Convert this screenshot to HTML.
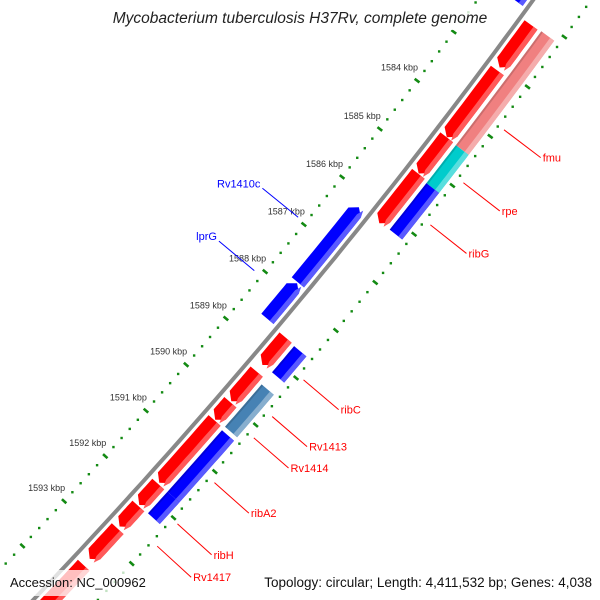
<!DOCTYPE html>
<html><head><meta charset="utf-8"><style>
html,body{margin:0;padding:0;background:#fff;width:600px;height:600px;overflow:hidden;}
svg{display:block;font-family:"Liberation Sans",sans-serif;}
</style></head><body>
<svg id="map" width="600" height="600" viewBox="0 0 600 600" xmlns="http://www.w3.org/2000/svg">
<rect width="600" height="600" fill="#fff"/>
<g id="ticks"></g>
<g id="backbone"></g>
<g id="features"></g>
<g id="labels"></g>
<rect x="106" y="4" width="388" height="26" fill="#fff" fill-opacity="0.8"/>
<text x="300" y="23" text-anchor="middle" font-size="15.5" font-style="italic" fill="#222">Mycobacterium tuberculosis H37Rv, complete genome</text>
<rect x="4" y="570" width="144" height="26" fill="#fff" fill-opacity="0.75"/>
<text x="10" y="587" font-size="13" fill="#111">Accession: NC_000962</text>
<rect x="252" y="570" width="346" height="26" fill="#fff" fill-opacity="0.75"/>
<text x="592" y="587" text-anchor="end" font-size="13.5" fill="#111">Topology: circular; Length: 4,411,532 bp; Genes: 4,038</text>
</svg>
<script>
// ---- data ----
const featNames = ['top-blue','red1','red2','red3','red4','red5','red6','red7','red8','red9','red10','red11','red12','fmu','rpe','ribG','ribC','Rv1413','ribA2','ribH','magenta','Rv1410c','lprG'];
const featStart = [1581450,1582160,1583080,1584440,1585190,1588610,1589335,1589990,1590380,1591760,1592240,1592738,1593547,1582145,1584450,1585229,1588627,1589440,1590421,1591751,1594150,1586215,1587812];
const featEnd   = [1581990,1583019,1584438,1585183,1586213,1589193,1589968,1590365,1591733,1592218,1592691,1593406,1594600,1584449,1585229,1586187,1589181,1590346,1591751,1592222,1595000,1587793,1588567];
const featLane  = [-1,1,1,1,1,1,1,1,1,1,1,1,1,2,2,2,2,2,2,2,2,-1,-1];
const featStrand= [-1,1,1,1,1,1,1,1,1,1,1,1,1,0,0,0,0,0,0,0,0,-1,-1];
const featColor = ['#0000ff','#ff0000','#ff0000','#ff0000','#ff0000','#ff0000','#ff0000','#ff0000','#ff0000','#ff0000','#ff0000','#ff0000','#ff0000','#f08080','#00cccc','#0000ff','#0000ff','#4682b4','#0000ff','#0000ff','#cc0099','#0000ff','#0000ff'];
const labelText = ['fmu','rpe','ribG','ribC','Rv1413','Rv1414','ribA2','ribH','Rv1417','Rv1410c','lprG'];
const labelBp   = [1583781,1584856,1585719,1588946,1589723,1590176,1591137,1592030,1592515,1586967,1588100];
const labelSide = [1,1,1,1,1,1,1,1,1,-1,-1];
const labelColor= ['#ff0000','#ff0000','#ff0000','#ff0000','#ff0000','#ff0000','#ff0000','#ff0000','#ff0000','#0000ff','#0000ff'];
const tickLabelKbp = [1584,1585,1586,1587,1588,1589,1590,1591,1592,1593];
const tickRange = [1580000,1596000];

// ---- geometry ----
const CX=-4211, CY=-3445, R0=5863, TH0=37.30*Math.PI/180, K=0.601*Math.PI/180/1000;
function P(bp,off){const a=TH0+(bp-1584000)*K, r=R0+off;return [CX+r*Math.cos(a), CY+r*Math.sin(a)];}
const NS='http://www.w3.org/2000/svg';
function mk(tag,parent){const e=document.createElementNS(NS,tag);parent.appendChild(e);return e;}
function arc(b0,b1,off,n){const pts=[];for(let i=0;i<=n;i++){pts.push(P(b0+(b1-b0)*i/n,off));}return pts;}
function ptsStr(p){return p.map(q=>q[0].toFixed(1)+','+q[1].toFixed(1)).join(' ');}

// backbone
const bbG=document.getElementById('backbone');
const bb=mk('polyline',bbG);
bb.setAttribute('points',ptsStr(arc(1579000,1597000,0,60)));
bb.setAttribute('fill','none');bb.setAttribute('stroke','#888');bb.setAttribute('stroke-width','4');



// ticks
const tG=document.getElementById('ticks');
[-45,47].forEach(function(off){
  for(let bp=tickRange[0];bp<=tickRange[1];bp+=200){
    const major=(bp%1000===0);
    if(major){
      const a=P(bp,off-3), b=P(bp,off+3);
      const l=mk('line',tG);
      l.setAttribute('x1',a[0]);l.setAttribute('y1',a[1]);l.setAttribute('x2',b[0]);l.setAttribute('y2',b[1]);
      l.setAttribute('stroke','#138a13');l.setAttribute('stroke-width','2.6');
      
      
    } else {
      const c=P(bp,off);
      const d=mk('rect',tG);
      d.setAttribute('x',c[0]-1.2);d.setAttribute('y',c[1]-1.2);d.setAttribute('width',2.4);d.setAttribute('height',2.4);
      d.setAttribute('fill','#138a13');
      
      
    }
  }
});
tickLabelKbp.forEach(function(k){
  const c=P(k*1000,-45);
  const t=mk('text',tG);
  t.setAttribute('x',c[0]+1);t.setAttribute('y',c[1]-10);
  t.setAttribute('text-anchor','end');t.setAttribute('font-size','9');t.setAttribute('fill','#333');
  t.textContent=k+' kbp';
  
  
});

// features
const fG=document.getElementById('features');
function lighten(hex,f){const n=parseInt(hex.slice(1),16);let r=n>>16,g=(n>>8)&255,b=n&255;
  r=Math.round(r+(255-r)*f);g=Math.round(g+(255-g)*f);b=Math.round(b+(255-b)*f);return 'rgb('+r+','+g+','+b+')';}
function shape(s,e,strand,inner,outer){
  const head=110, mid=(inner+outer)/2, n=8;
  let p;
  if(strand===1){const be=Math.max(s,e-head);
    p=arc(s,be,outer,n).concat([P(e,mid)]).concat(arc(be,s,inner,n));}
  else if(strand===-1){const bs=Math.min(e,s+head);
    p=[P(s,mid)].concat(arc(bs,e,outer,n)).concat(arc(e,bs,inner,n));}
  else {p=arc(s,e,outer,n).concat(arc(e,s,inner,n));}
  return p;
}
featStart.forEach(function(s,i){
  const e=featEnd[i], lane=featLane[i];
  let inner,outer;
  if(lane===1){inner=5;outer=21;} else if(lane===2){inner=25;outer=41;} else {inner=-21;outer=-5;}
  const g=mk('g',fG);
  
  
  const main=mk('polygon',g);
  main.setAttribute('points',ptsStr(shape(s,e,featStrand[i],inner,outer)));
  main.setAttribute('fill',featColor[i]);
  const hl=mk('polygon',g);
  hl.setAttribute('points',ptsStr(shape(s,e,featStrand[i],outer-5,outer)));
  hl.setAttribute('fill',lighten(featColor[i],0.35));
  if(featStrand[i]===0){
    const dk=mk('polygon',g);
    dk.setAttribute('points',ptsStr(shape(s,e,0,inner,inner+2)));
    dk.setAttribute('fill','#000');dk.setAttribute('fill-opacity','0.15');
  }
});

// labels
const lG=document.getElementById('labels');
labelText.forEach(function(txt,i){
  const side=labelSide[i];
  const a=P(labelBp[i],side*54), b=P(labelBp[i],side*100);
  const l=mk('line',lG);
  l.setAttribute('x1',a[0]);l.setAttribute('y1',a[1]);l.setAttribute('x2',b[0]);l.setAttribute('y2',b[1]);
  l.setAttribute('stroke',labelColor[i]);l.setAttribute('stroke-width','1');
  
  
  const t=mk('text',lG);
  if(side===1){t.setAttribute('x',b[0]+2);t.setAttribute('y',b[1]+4);t.setAttribute('text-anchor','start');}
  else {t.setAttribute('x',b[0]-2);t.setAttribute('y',b[1]-1);t.setAttribute('text-anchor','end');}
  t.setAttribute('font-size','11');t.setAttribute('fill',labelColor[i]);
  t.textContent=txt;
  
  
});
</script>
</body></html>
